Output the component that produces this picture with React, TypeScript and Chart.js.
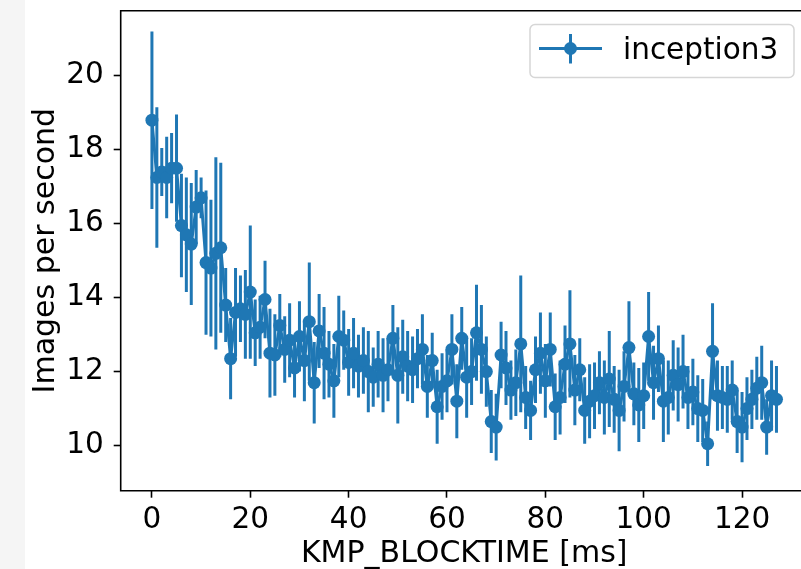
import React, { useEffect, useRef } from "react";
import { Chart, registerables } from "chart.js";

Chart.register(...registerables);

const blocktimeMs = [
  0, 1, 2, 3, 4, 5, 6, 7, 8, 9, 10, 11, 12, 13, 14, 15, 16, 17, 18, 19,
  20, 21, 22, 23, 24, 25, 26, 27, 28, 29, 30, 31, 32, 33, 34, 35, 36, 37, 38, 39,
  40, 41, 42, 43, 44, 45, 46, 47, 48, 49, 50, 51, 52, 53, 54, 55, 56, 57, 58, 59,
  60, 61, 62, 63, 64, 65, 66, 67, 68, 69, 70, 71, 72, 73, 74, 75, 76, 77, 78, 79,
  80, 81, 82, 83, 84, 85, 86, 87, 88, 89, 90, 91, 92, 93, 94, 95, 96, 97, 98, 99,
  100, 101, 102, 103, 104, 105, 106, 107, 108, 109, 110, 111, 112, 113, 114, 115, 116, 117, 118, 119,
  120, 121, 122, 123, 124, 125, 126, 127,
];

const imagesPerSecond = [
  18.8, 17.25, 17.4, 17.25, 17.5, 17.5, 15.95, 15.7, 15.45, 16.45,
  16.7, 14.95, 14.8, 15.2, 15.35, 13.8, 12.35, 13.6, 13.7, 13.55,
  14.15, 13.05, 13.2, 13.95, 12.5, 12.45, 13.25, 12.6, 12.85, 12.1,
  12.95, 12.3, 13.35, 11.7, 13.1, 12.5, 12.2, 11.75, 12.95, 12.85,
  12.25, 12.5, 12.15, 12.3, 12.0, 11.85, 12.2, 11.9, 12.05, 12.9,
  11.9, 12.4, 12.15, 12.05, 12.35, 12.6, 11.6, 12.3, 11.05, 11.6,
  11.75, 12.6, 11.2, 12.9, 11.85, 12.0, 13.05, 12.6, 12.0, 10.65,
  10.5, 12.45, 12.1, 11.5, 11.7, 12.75, 11.3, 10.95, 12.05, 12.5,
  11.75, 12.6, 11.05, 11.3, 12.2, 12.75, 11.5, 12.05, 10.95, 11.2,
  11.35, 11.7, 11.3, 11.8, 11.25, 10.95, 11.6, 12.65, 11.4, 11.1,
  11.35, 12.95, 11.7, 12.35, 11.2, 11.3, 11.9, 11.65, 12.0, 11.3,
  11.45, 11.0, 10.95, 10.05, 12.55, 11.35, 11.3, 11.25, 11.5, 10.65,
  10.5, 11.0, 11.25, 11.55, 11.7, 10.5, 11.35, 11.25,
];

const errorHalfWidth = [
  2.4, 1.9, 0.65, 1.1, 0.95, 1.45, 1.4, 1.55, 1.65, 1.0,
  0.55, 1.95, 1.85, 2.6, 2.3, 1.0, 1.1, 1.2, 0.9, 1.2,
  1.8, 0.9, 0.85, 1.05, 1.2, 1.1, 0.85, 0.9, 1.0, 0.8,
  0.95, 1.1, 1.6, 1.1, 1.0, 1.25, 0.9, 1.0, 1.1, 0.8,
  0.9, 0.95, 0.85, 0.9, 1.1, 0.8, 0.9, 1.0, 0.85, 0.9,
  1.3, 1.0, 0.95, 0.9, 0.8, 0.95, 0.85, 0.75, 1.0, 0.9,
  0.85, 0.95, 1.0, 0.85, 1.1, 0.9, 1.3, 1.2, 0.95, 0.85,
  0.9, 0.9, 1.0, 0.8, 0.9, 1.85, 0.85, 0.8, 0.9, 1.1,
  1.0, 1.0, 0.9, 1.0, 1.05, 1.45, 0.95, 0.85, 0.9, 1.0,
  0.9, 0.85, 1.0, 1.3, 0.9, 1.1, 0.95, 1.25, 0.85, 1.0,
  0.9, 1.2, 1.0, 0.9, 1.1, 1.0, 0.95, 1.0, 1.0, 0.85,
  0.9, 0.9, 0.85, 0.6, 1.3, 0.95, 0.85, 0.9, 0.8, 0.85,
  0.95, 0.85, 0.8, 0.85, 1.0, 0.75, 0.95, 0.9,
];

const xTickValues = [0, 20, 40, 60, 80, 100, 120];
const yTickValues = [10, 12, 14, 16, 18, 20];
const seriesLabel = "inception3";
const xAxisTitle = "KMP_BLOCKTIME [ms]";
const yAxisTitle = "Images per second";

const BLUE = "#1f77b4";
const FONT_FAMILY = "'DejaVu Sans', sans-serif";
const FONT_SIZE = 29.5;
const TITLE_SIZE = 30;
const CANVAS_W = 840;
const CANVAS_H = 569;
const AREA = { left: 120.7, right: 807.7, top: 10.7, bottom: 490.7 };

function zeroPadding(scale: any) {
  scale.paddingTop = 0;
  scale.paddingBottom = 0;
  scale.paddingLeft = 0;
  scale.paddingRight = 0;
}

export default function App() {
  const ref = useRef<HTMLCanvasElement>(null);

  useEffect(() => {
    if (!ref.current) return;

    const errorBars = {
      id: "errorBars",
      beforeDatasetsDraw(chart: any) {
        const { ctx, chartArea, scales } = chart;
        const x = scales.x;
        const y = scales.y;
        ctx.save();
        ctx.beginPath();
        ctx.rect(chartArea.left, chartArea.top, chartArea.right - chartArea.left, chartArea.bottom - chartArea.top);
        ctx.clip();
        ctx.strokeStyle = BLUE;
        ctx.lineWidth = 3;
        ctx.lineCap = "butt";
        blocktimeMs.forEach((t, i) => {
          const px = x.getPixelForValue(t);
          const v = imagesPerSecond[i];
          const e = errorHalfWidth[i];
          ctx.beginPath();
          ctx.moveTo(px, y.getPixelForValue(v - e));
          ctx.lineTo(px, y.getPixelForValue(v + e));
          ctx.stroke();
        });
        ctx.restore();
      },
    };

    const decorations = {
      id: "decorations",
      afterDraw(chart: any) {
        const { ctx, chartArea } = chart;
        ctx.save();
        ctx.strokeStyle = "#000";
        ctx.lineWidth = 1.6;
        ctx.beginPath();
        ctx.moveTo(chartArea.right, chartArea.top);
        ctx.lineTo(chartArea.left, chartArea.top);
        ctx.lineTo(chartArea.left, chartArea.bottom);
        ctx.lineTo(chartArea.right, chartArea.bottom);
        ctx.stroke();

        ctx.fillStyle = "#000";
        ctx.font = `${TITLE_SIZE}px ${FONT_FAMILY}`;
        ctx.textAlign = "center";
        ctx.textBaseline = "alphabetic";
        ctx.fillText(xAxisTitle, (chartArea.left + chartArea.right) / 2, 562);
        ctx.save();
        ctx.translate(53.5, (chartArea.top + chartArea.bottom) / 2);
        ctx.rotate(-Math.PI / 2);
        ctx.fillText(yAxisTitle, 0, 0);
        ctx.restore();

        const bx = 530, by = 24.5, bw = 264, bh = 53;
        ctx.beginPath();
        (ctx as any).roundRect(bx, by, bw, bh, 5);
        ctx.fillStyle = "rgba(255,255,255,0.8)";
        ctx.fill();
        ctx.strokeStyle = "#d6d6d6";
        ctx.lineWidth = 1.5;
        ctx.stroke();

        const cy = 48.5;
        ctx.strokeStyle = BLUE;
        ctx.lineWidth = 3;
        ctx.beginPath();
        ctx.moveTo(539, cy);
        ctx.lineTo(602, cy);
        ctx.stroke();
        ctx.beginPath();
        ctx.moveTo(570.5, 34);
        ctx.lineTo(570.5, 63.5);
        ctx.stroke();
        ctx.beginPath();
        ctx.arc(570.5, cy, 6.5, 0, Math.PI * 2);
        ctx.fillStyle = BLUE;
        ctx.fill();

        ctx.fillStyle = "#000";
        ctx.font = `${FONT_SIZE}px ${FONT_FAMILY}`;
        ctx.textAlign = "left";
        ctx.textBaseline = "alphabetic";
        ctx.fillText(seriesLabel, 623, 59);
        ctx.restore();
      },
    };

    const chart = new Chart(ref.current, {
      type: "scatter",
      data: {
        datasets: [
          {
            label: seriesLabel,
            data: blocktimeMs.map((t, i) => ({ x: t, y: imagesPerSecond[i] })),
            showLine: true,
            borderColor: BLUE,
            borderWidth: 3,
            backgroundColor: BLUE,
            pointRadius: 6.5,
            pointBorderWidth: 0,
            pointBackgroundColor: BLUE,
            pointHoverRadius: 6.5,
            tension: 0,
          },
        ],
      },
      options: {
        responsive: false,
        animation: false,
        devicePixelRatio: 1,
        layout: {
          padding: { left: 0, top: AREA.top, right: CANVAS_W - AREA.right, bottom: 0 },
        },
        plugins: {
          legend: { display: false },
          tooltip: { enabled: false },
        },
        scales: {
          x: {
            type: "linear",
            min: -6.35,
            max: 133.35,
            afterFit(scale: any) {
              scale.height = CANVAS_H - AREA.bottom;
              zeroPadding(scale);
            },
            afterBuildTicks(scale: any) {
              scale.ticks = xTickValues.map((v) => ({ value: v }));
            },
            border: { display: false },
            grid: {
              display: true,
              drawOnChartArea: false,
              drawTicks: true,
              tickLength: 7,
              tickWidth: 1.6,
              tickColor: "#000",
            },
            ticks: {
              color: "#000",
              padding: 5,
              maxRotation: 0,
              autoSkip: false,
              font: { family: FONT_FAMILY, size: FONT_SIZE },
              callback: (v: any) => String(v),
            },
            title: { display: false },
          },
          y: {
            type: "linear",
            min: 8.78,
            max: 21.76,
            afterFit(scale: any) {
              scale.width = AREA.left;
              zeroPadding(scale);
            },
            afterBuildTicks(scale: any) {
              scale.ticks = yTickValues.map((v) => ({ value: v }));
            },
            border: { display: false },
            grid: {
              display: true,
              drawOnChartArea: false,
              drawTicks: true,
              tickLength: 7,
              tickWidth: 1.6,
              tickColor: "#000",
            },
            ticks: {
              color: "#000",
              padding: 10,
              autoSkip: false,
              font: { family: FONT_FAMILY, size: FONT_SIZE },
              callback: (v: any) => String(v),
            },
            title: { display: false },
          },
        },
      },
      plugins: [errorBars, decorations],
    });

    return () => chart.destroy();
  }, []);

  return (
    <div
      style={{
        position: "fixed",
        left: 0,
        top: 0,
        width: 801,
        height: 569,
        overflow: "hidden",
        background: "#fff",
      }}
    >
      <div
        style={{
          position: "absolute",
          left: 0,
          top: 0,
          width: 25,
          height: 569,
          background: "#f5f5f5",
        }}
      />
      <canvas
        ref={ref}
        width={CANVAS_W}
        height={CANVAS_H}
        style={{ position: "absolute", left: 0, top: 0, width: CANVAS_W, height: CANVAS_H }}
      />
    </div>
  );
}
